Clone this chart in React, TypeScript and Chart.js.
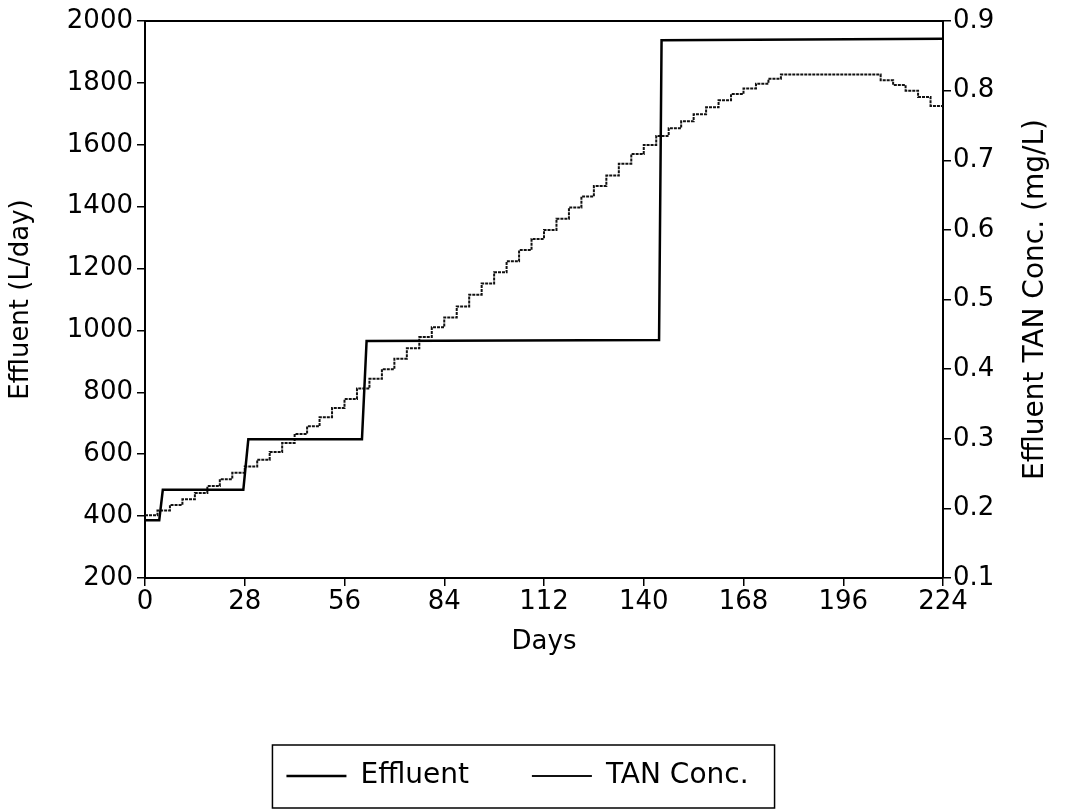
import React, { useEffect, useRef } from 'react';
import { Chart, registerables } from 'chart.js';

Chart.register(...registerables);

const effluentDays = [0, 4, 5, 27.6, 29, 60.9, 62.2, 144.3, 145, 224];
const effluentValues = [387, 387, 485, 485, 648, 648, 966, 969, 1938, 1943];

const tanDays = [
  0, 3.5, 7, 10.5, 14, 17.5, 21, 24.5, 28, 31.5, 35, 38.5, 42, 45.5, 49, 52.5,
  56, 59.5, 63, 66.5, 70, 73.5, 77, 80.5, 84, 87.5, 91, 94.5, 98, 101.5, 105,
  108.5, 112, 115.5, 119, 122.5, 126, 129.5, 133, 136.5, 140, 143.5, 147, 150.5,
  154, 157.5, 161, 164.5, 168, 171.5, 175, 178.5, 182, 185.5, 189, 192.5, 196,
  199.5, 203, 206.5, 210, 213.5, 217, 220.5, 224,
];
const tanValues = [
  0.19, 0.197, 0.205, 0.213, 0.222, 0.232, 0.242, 0.251, 0.26, 0.27, 0.281,
  0.294, 0.307, 0.318, 0.331, 0.344, 0.357, 0.372, 0.386, 0.4, 0.415, 0.43,
  0.446, 0.46, 0.474, 0.49, 0.507, 0.523, 0.539, 0.555, 0.571, 0.587, 0.6,
  0.616, 0.632, 0.648, 0.663, 0.678, 0.695, 0.709, 0.722, 0.735, 0.746, 0.756,
  0.766, 0.776, 0.786, 0.795, 0.803, 0.81, 0.817, 0.823, 0.823, 0.823, 0.823,
  0.823, 0.823, 0.823, 0.823, 0.815, 0.808, 0.8, 0.791, 0.778, 0.772,
];

const xTicks = [0, 28, 56, 84, 112, 140, 168, 196, 224];
const yLeftTicks = [200, 400, 600, 800, 1000, 1200, 1400, 1600, 1800, 2000];
const yRightTicks = [0.1, 0.2, 0.3, 0.4, 0.5, 0.6, 0.7, 0.8, 0.9];

const FONT = 'DejaVu Sans';
const rightTitle = 'Effluent TAN Conc. (mg/L)';

const framePlugin = {
  id: 'framePlugin',
  afterDraw(chart: any) {
    const { ctx, chartArea } = chart;
    ctx.save();
    ctx.strokeStyle = '#000';
    ctx.lineWidth = 2;
    ctx.beginPath();
    ctx.moveTo(chartArea.left, chartArea.top);
    ctx.lineTo(chartArea.right, chartArea.top);
    ctx.stroke();
    ctx.fillStyle = '#000';
    ctx.font = `28px "${FONT}"`;
    ctx.textAlign = 'center';
    ctx.textBaseline = 'middle';
    ctx.translate(1036, (chartArea.top + chartArea.bottom) / 2);
    ctx.rotate(-Math.PI / 2);
    ctx.fillText(rightTitle, 0, 0);
    ctx.restore();
    const hb = chart.legend && chart.legend.legendHitBoxes;
    if (hb && hb.length) {
      let l = Infinity, r = -Infinity, t = Infinity, b = -Infinity;
      hb.forEach((h: any) => {
        l = Math.min(l, h.left);
        r = Math.max(r, h.left + h.width);
        t = Math.min(t, h.top);
        b = Math.max(b, h.top + h.height);
      });
      ctx.save();
      ctx.strokeStyle = '#000';
      ctx.lineWidth = 1.5;
      ctx.strokeRect(l - 14, t - 17, r - l + 40, b - t + 35);
      ctx.restore();
    }
  },
};

export default function App() {
  const ref = useRef<HTMLCanvasElement>(null);
  useEffect(() => {
    document.body.style.margin = '0';
    const canvas = ref.current;
    if (!canvas) return;
    const tickFont = { family: FONT, size: 26 };
    const chart = new Chart(canvas, {
      type: 'line',
      data: {
        datasets: [
          {
            label: 'Effluent',
            data: effluentDays.map((d, i) => ({ x: d, y: effluentValues[i] })),
            borderColor: '#000',
            backgroundColor: '#000',
            borderWidth: 2.5,
            pointRadius: 0,
            yAxisID: 'y',
            tension: 0,
          },
          {
            label: 'TAN Conc.',
            data: tanDays.map((d, i) => ({ x: d, y: tanValues[i] })),
            borderColor: '#111',
            backgroundColor: '#111',
            borderWidth: 2,
            borderDash: [3, 1],
            pointRadius: 0,
            stepped: true,
            yAxisID: 'y1',
          },
        ],
      },
      options: {
        responsive: false,
        animation: false,
        color: '#000',
        layout: { padding: { top: 21, left: 0, right: 30, bottom: 12 } },
        plugins: {
          tooltip: { enabled: false },
          legend: {
            position: 'bottom',
            labels: {
              usePointStyle: true,
              pointStyle: 'line',
              pointStyleWidth: 60,
              padding: 63,
              color: '#000',
              font: { family: FONT, size: 28 },
            },
          },
        },
        scales: {
          x: {
            type: 'linear',
            min: 0,
            max: 224,
            afterBuildTicks: (s: any) => {
              s.ticks = xTicks.map((v) => ({ value: v }));
            },
            afterFit: (s: any) => {
              s.height = 121;
            },
            ticks: {
              color: '#000',
              font: tickFont,
              padding: 1,
              maxRotation: 0,
              autoSkip: false,
              callback: (v: any) => String(v),
            },
            grid: { drawOnChartArea: false, drawTicks: true, tickLength: 8, color: '#000', lineWidth: 1.5 },
            border: { color: '#000', width: 2 },
            title: {
              display: true,
              text: 'Days',
              color: '#000',
              font: { family: FONT, size: 26 },
              padding: { top: 0, bottom: 41 },
            },
          },
          y: {
            type: 'linear',
            position: 'left',
            min: 200,
            max: 2000,
            afterBuildTicks: (s: any) => {
              s.ticks = yLeftTicks.map((v) => ({ value: v }));
            },
            afterFit: (s: any) => {
              s.width = 145;
            },
            ticks: { color: '#000', font: tickFont, padding: 4, callback: (v: any) => String(v) },
            grid: { drawOnChartArea: false, drawTicks: true, tickLength: 8, color: '#000', lineWidth: 1.5 },
            border: { color: '#000', width: 2 },
            title: {
              display: true,
              text: 'Effluent (L/day)',
              color: '#000',
              font: { family: FONT, size: 26 },
              padding: { top: 6, bottom: 0 },
            },
          },
          y1: {
            type: 'linear',
            position: 'right',
            min: 0.1,
            max: 0.9,
            afterBuildTicks: (s: any) => {
              s.ticks = yRightTicks.map((v) => ({ value: v }));
            },
            afterFit: (s: any) => {
              s.width = 92;
            },
            ticks: {
              color: '#000',
              font: tickFont,
              padding: 2,
              callback: (v: any) => Number(v).toFixed(1),
            },
            grid: { drawOnChartArea: false, drawTicks: true, tickLength: 8, color: '#000', lineWidth: 1.5 },
            border: { color: '#000', width: 2 },
          },
        },
      },
      plugins: [framePlugin],
    } as any);
    return () => chart.destroy();
  }, []);
  return (
    <div style={{ width: 1065, height: 812, background: '#fff' }}>
      <canvas ref={ref} width={1065} height={812} />
    </div>
  );
}
